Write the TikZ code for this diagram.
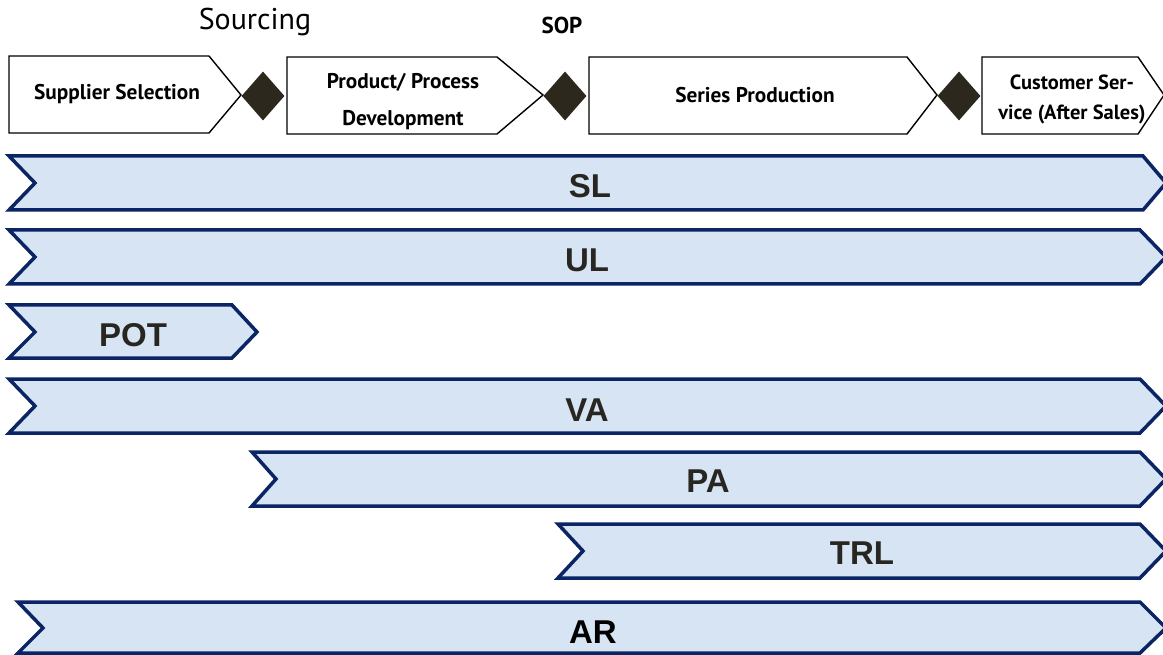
\documentclass[tikz,border=0pt]{standalone}
\usepackage{fontspec}
\newfontfamily\phasefont{PT Sans}
\newfontfamily\barfont{Liberation Sans}
\usetikzlibrary{shapes.geometric}
\definecolor{barfill}{RGB}{215,228,244}
\definecolor{barline}{RGB}{10,36,100}
\definecolor{gatefill}{RGB}{45,40,30}
\definecolor{bartext}{RGB}{40,38,32}
\begin{document}
\begin{tikzpicture}
        [x=1pt, y=-1pt,
        phase/.style={draw=black, line width=1.4pt, fill=white, line join=miter},
        bar/.style={draw=barline, line width=3.5pt, fill=barfill, line join=miter},
        gate/.style={diamond, fill=gatefill, inner sep=0pt, minimum width=43pt, minimum height=49pt},
        phaselabel/.style={font=\phasefont\bfseries\fontsize{21.3}{37}\selectfont, align=center, inner sep=0pt},
        barlabel/.style={font=\barfont\bfseries\fontsize{33}{36}\selectfont, text=bartext, inner sep=0pt}]

        \useasboundingbox (0,0) rectangle (1163,655);

        % milestones above the phases
        \node[font=\phasefont\fontsize{30}{34}\selectfont, inner sep=0pt] (sourcing) at (255,22) {Sourcing};
        \node[font=\phasefont\bfseries\fontsize{23}{26}\selectfont, inner sep=0pt] (sop) at (562,25) {SOP};

        % process phases
        \draw[phase] (9,56) -- (209,56) -- (241,95) -- (209,133) -- (9,133) -- cycle;
        \draw[phase] (287,57) -- (497,57) -- (543,95) -- (497,134) -- (287,134) -- cycle;
        \draw[phase] (589,57) -- (907,57) -- (937,95) -- (907,134) -- (589,134) -- cycle;
        \draw[phase] (982,57) -- (1138,57) -- (1164,95) -- (1138,134) -- (982,134) -- cycle;

        \node[phaselabel] (selection) at (117,94) {Supplier Selection};
        \node[phaselabel] (development) at (403,102) {Product/ Process\\Development};
        \node[phaselabel] (production) at (755,95) {Series Production};
        \node[phaselabel, font=\phasefont\bfseries\fontsize{20.5}{30}\selectfont] (service) at (1072,99) {Customer Ser-\\vice (After Sales)};

        % gates between the phases
        \node[gate] (g1) at (263,96) {};
        \node[gate] (g2) at (565,96) {};
        \node[gate] (g3) at (959,96) {};

        % bars
        \draw[bar] (9,156) -- (1143,156) -- (1166,183) -- (1143,210) -- (9,210) -- (35,183) -- cycle;
        \draw[bar] (9,230) -- (1140,230) -- (1166,257) -- (1140,284) -- (9,284) -- (35,257) -- cycle;
        \draw[bar] (9,305) -- (232,305) -- (257,332) -- (232,358) -- (9,358) -- (35,332) -- cycle;
        \draw[bar] (9,379) -- (1140,379) -- (1166,406) -- (1140,433) -- (9,433) -- (35,406) -- cycle;
        \draw[bar] (252,452) -- (1140,452) -- (1166,479) -- (1140,506) -- (252,506) -- (276,479) -- cycle;
        \draw[bar] (558,524) -- (1140,524) -- (1166,551) -- (1140,578) -- (558,578) -- (583,551) -- cycle;
        \draw[bar] (18,602) -- (1140,602) -- (1166,628) -- (1140,653) -- (18,653) -- (43,628) -- cycle;

        \node[barlabel] (sl) at (590,186) {SL};
        \node[barlabel] (ul) at (587,260) {UL};
        \node[barlabel] (pot) at (133,335) {POT};
        \node[barlabel] (va) at (587,410) {VA};
        \node[barlabel] (pa) at (708,481) {PA};
        \node[barlabel] (trl) at (862,553) {TRL};
        \node[barlabel, text=black] (ar) at (593,632) {AR};

    \end{tikzpicture}
\end{document}
